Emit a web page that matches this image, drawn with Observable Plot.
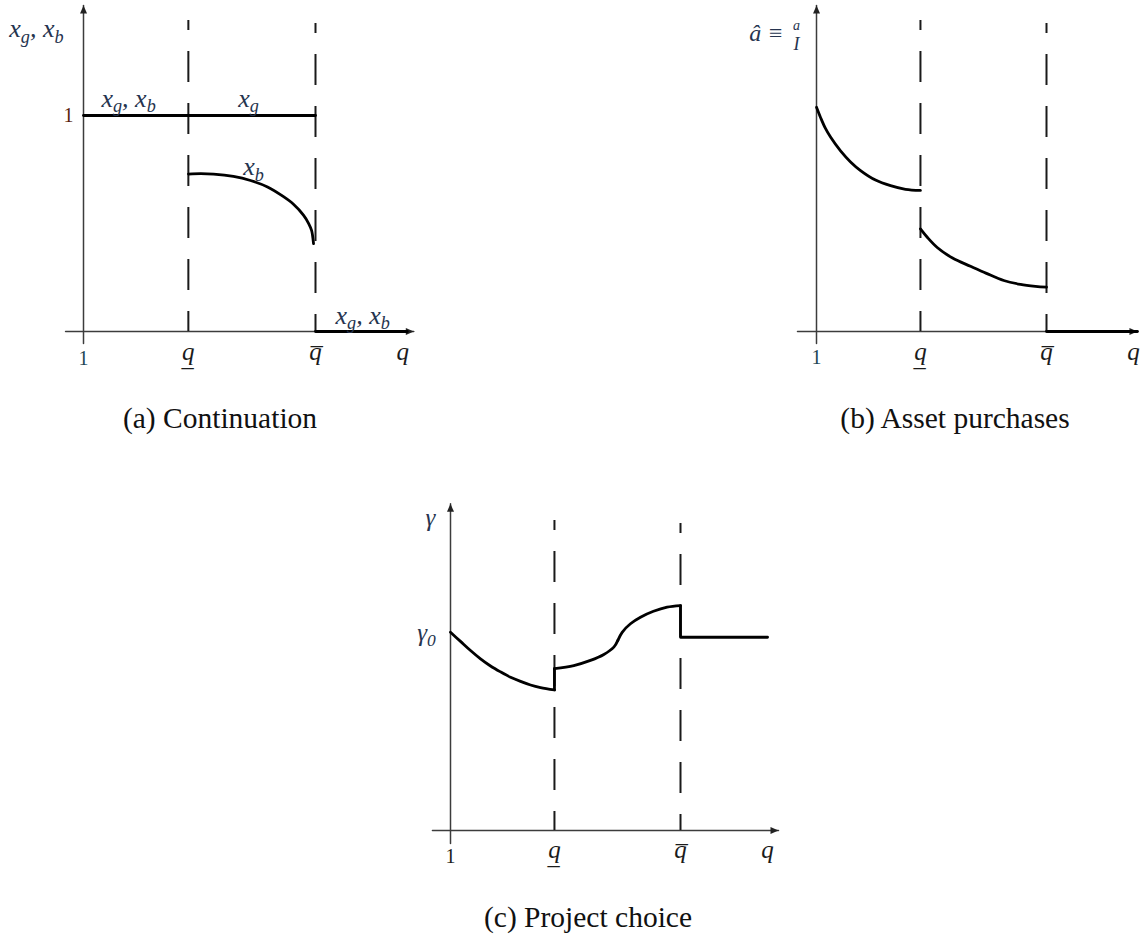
<!DOCTYPE html>
<html><head><meta charset="utf-8">
<script src="https://cdn.jsdelivr.net/npm/d3@7"></script>
<script src="https://cdn.jsdelivr.net/npm/@observablehq/plot@0.6"></script>
<style>
body{margin:0;background:#fff;}
#wrap{position:relative;width:1143px;height:936px;overflow:hidden;background:#fff;}
.panel{position:absolute;}
.panel svg{overflow:visible;}
.cap{position:absolute;font-family:"Liberation Serif","DejaVu Serif",serif;font-size:29.5px;color:#111;transform:translate(-50%,-50%);white-space:nowrap;}
</style></head><body><div id="wrap"></div>
<script>
// ---------- shared data ----------
const qTicks = [1, 1.8, 2.77];                    // 1, q_lower, q_upper
const qTickLabels = ["1", "q\u0332", "q\u0305"];
const qAxisName = "q";

// ---------- (a) Continuation ----------
const aXgXbLevel = [{q: 1, v: 1}, {q: 2.77, v: 1}];
const aXbQ = [1.801, 1.893, 1.992, 2.144, 2.274, 2.404, 2.526, 2.602, 2.678, 2.717, 2.740, 2.747, 2.755];
const aXbV = [0.729, 0.731, 0.729, 0.718, 0.699, 0.669, 0.624, 0.589, 0.539, 0.501, 0.468, 0.447, 0.407];
const aZero = [{q: 2.77, v: 0}, {q: 3.47, v: 0}];
const aLabels = [
  {q: 0.641, v: 1.40, t: "x_g, x_b"},
  {q: 1.344, v: 1.079, t: "x_g, x_b"},
  {q: 2.259, v: 1.079, t: "x_g"},
  {q: 2.298, v: 0.764, t: "x_b"},
  {q: 3.13, v: 0.075, t: "x_g, x_b"}
];

// ---------- (b) Asset purchases ----------
const bCurve1Q = [1.0, 1.031, 1.069, 1.108, 1.185, 1.262, 1.339, 1.454, 1.570, 1.685, 1.80];
const bCurve1V = [1.038, 0.991, 0.940, 0.900, 0.836, 0.785, 0.745, 0.701, 0.675, 0.658, 0.653];
const bCurve2Q = [1.80, 1.854, 1.929, 2.047, 2.185, 2.308, 2.441, 2.570, 2.685, 2.77];
const bCurve2V = [0.475, 0.435, 0.389, 0.340, 0.302, 0.269, 0.236, 0.218, 0.209, 0.205];
const bZero = [{q: 2.77, v: 0}, {q: 3.47, v: 0}];

// ---------- (c) Project choice ----------
const cCurve1Q = [1.0, 1.077, 1.154, 1.231, 1.308, 1.385, 1.462, 1.539, 1.616, 1.693, 1.80];
const cCurve1V = [1.001, 0.955, 0.909, 0.867, 0.831, 0.801, 0.774, 0.753, 0.735, 0.722, 0.710];
const cCurve2aQ = [1.80, 1.949, 2.077, 2.180, 2.257, 2.288];
const cCurve2aV = [0.817, 0.833, 0.859, 0.889, 0.926, 0.960];
const cCurve2bQ = [2.288, 2.321, 2.385, 2.462, 2.562, 2.667, 2.77];
const cCurve2bV = [0.960, 1.001, 1.044, 1.077, 1.107, 1.128, 1.136];
const cJumpLow = [{q: 1.80, v: 0.710}, {q: 1.80, v: 0.817}];
const cJumpHighFlat = [{q: 2.77, v: 1.136}, {q: 2.77, v: 0.976}, {q: 3.44, v: 0.976}];
const cLabels = [
  {q: 0.846, v: 1.58, t: "\u03b3"},
  {q: 0.815, v: 1.0, t: "\u03b3_0"}
];

const captions = ["(a) Continuation", "(b) Asset purchases", "(c) Project choice"];

// ---------- helpers ----------
const MATH = '"Liberation Serif","DejaVu Serif",serif';
const pts = (qs, vs) => qs.map((q, i) => ({q, v: vs[i]}));
const upTri = {draw(ctx) { ctx.moveTo(0, 0); ctx.lineTo(-3.5, 8); ctx.lineTo(3.5, 8); ctx.closePath(); }};
const rightTri = {draw(ctx) { ctx.moveTo(0, 0); ctx.lineTo(-8, -3.5); ctx.lineTo(-8, 3.5); ctx.closePath(); }};

function mathify(svg) {
  svg.querySelectorAll("g.math text").forEach((el) => {
    const s = el.textContent;
    if (!s.includes("_")) return;
    const base = parseFloat(el.getAttribute("font-size") || getComputedStyle(el).fontSize) || 26;
    const parts = s.split(/(_.)/).filter((p) => p.length);
    el.textContent = "";
    let shifted = false;
    const ns = "http://www.w3.org/2000/svg";
    for (const p of parts) {
      const t = document.createElementNS(ns, "tspan");
      if (p[0] === "_") {
        t.textContent = p.slice(1);
        t.setAttribute("font-size", (base * 0.7).toFixed(1));
        if (!shifted) t.setAttribute("dy", (base * 0.22).toFixed(1));
        shifted = true;
      } else {
        t.textContent = p;
        if (shifted) t.setAttribute("dy", (-base * 0.22).toFixed(1));
        shifted = false;
      }
      el.appendChild(t);
    }
  });
}

function axisMarks(xAxis, yAxis, dashed) {
  return [
    Plot.line(xAxis, {x: "q", y: "v", stroke: "#3c3c3c", strokeWidth: 1.5}),
    Plot.line(yAxis, {x: "q", y: "v", stroke: "#3c3c3c", strokeWidth: 1.5}),
    Plot.dot(xAxis.slice(-1), {x: "q", y: "v", symbol: rightTri, fill: "#222", stroke: null}),
    Plot.dot(yAxis.slice(-1), {x: "q", y: "v", symbol: upTri, fill: "#222", stroke: null}),
    Plot.ruleX(dashed, {x: "q", y1: "top", y2: "bottom", stroke: "#1a1a1a", strokeWidth: 2, strokeDasharray: "31,21", strokeDashoffset: 21})
  ];
}

function tickMarks(oneV, qV, nameQ, oneColor) {
  const ticks = qTicks.map((q, i) => ({q, v: i === 0 ? oneV : qV, t: qTickLabels[i]}));
  return [
    Plot.text(ticks.slice(0, 1), {x: "q", y: "v", text: "t", fontFamily: MATH, fontSize: 20, fill: oneColor, lineAnchor: "middle"}),
    Plot.text(ticks.slice(1).concat([{q: nameQ, v: qV, t: qAxisName}]), {x: "q", y: "v", text: "t", fontFamily: MATH, fontStyle: "italic", fontSize: 25, fill: "#1b1b1b", lineAnchor: "middle"})
  ];
}

function mount(plot, left, top) {
  const d = document.createElement("div");
  d.className = "panel";
  d.style.left = left + "px";
  d.style.top = top + "px";
  d.appendChild(plot);
  document.getElementById("wrap").appendChild(d);
  mathify(plot);
}

const LINE = {stroke: "#000", strokeWidth: 2.8, strokeLinecap: "round", strokeLinejoin: "round"};

// ---------- panel (a) ----------
mount(Plot.plot({
  width: 430, height: 380, margin: 0,
  x: {domain: [1, 2.77], range: [83, 315], axis: null},
  y: {domain: [0, 1], range: [331, 115], axis: null},
  style: {background: "transparent"},
  marks: [
    ...axisMarks([{q: 0.863, v: 0}, {q: 3.52, v: 0}], [{q: 1, v: -0.056}, {q: 1, v: 1.509}],
      [{q: 1.8, top: 1.44, bottom: 0}, {q: 2.77, top: 1.426, bottom: 0}]),
    Plot.line(aXgXbLevel, {x: "q", y: "v", ...LINE}),
    Plot.line(aZero, {x: "q", y: "v", ...LINE}),
    Plot.line(pts(aXbQ, aXbV), {x: "q", y: "v", curve: "catmull-rom", ...LINE}),
    Plot.text(aLabels, {x: "q", y: "v", text: "t", fontFamily: MATH, fontStyle: "italic", fontSize: 26, fill: "#26344f", lineAnchor: "middle", className: "math"}),
    Plot.text([{q: 0.885, v: 1, t: "1"}], {x: "q", y: "v", text: "t", fontFamily: MATH, fontSize: 20, fill: "#5a1c0c", lineAnchor: "middle"}),
    ...tickMarks(-0.125, -0.097, 3.435, "#1d4655")
  ]
}), 0, 0);

// ---------- panel (b) ----------
mount(Plot.plot({
  width: 423, height: 380, margin: 0,
  x: {domain: [1, 2.77], range: [96, 326], axis: null},
  y: {domain: [0, 1], range: [331, 115], axis: null},
  style: {background: "transparent"},
  marks: [
    ...axisMarks([{q: 0.854, v: 0}, {q: 3.47, v: 0}], [{q: 1, v: -0.056}, {q: 1, v: 1.509}],
      [{q: 1.8, top: 1.44, bottom: 0}, {q: 2.77, top: 1.426, bottom: 0}]),
    Plot.line(bZero, {x: "q", y: "v", ...LINE}),
    Plot.line(pts(bCurve1Q, bCurve1V), {x: "q", y: "v", curve: "catmull-rom", ...LINE}),
    Plot.line(pts(bCurve2Q, bCurve2V), {x: "q", y: "v", curve: "catmull-rom", ...LINE}),
    Plot.text([{q: 0.746, v: 1.38, t: "\u00e2 \u2261"}], {x: "q", y: "v", text: "t", fontFamily: MATH, fontStyle: "italic", fontSize: 24, fill: "#26344f", lineAnchor: "middle", textAnchor: "end"}),
    Plot.text([{q: 0.846, v: 1.415, t: "a"}], {x: "q", y: "v", text: "t", fontFamily: MATH, fontStyle: "italic", fontSize: 14, fill: "#26344f", lineAnchor: "middle"}),
    Plot.text([{q: 0.846, v: 1.33, t: "I"}], {x: "q", y: "v", text: "t", fontFamily: MATH, fontStyle: "italic", fontSize: 18, fill: "#26344f", lineAnchor: "middle"}),
    ...tickMarks(-0.12, -0.097, 3.44, "#1d4655")
  ]
}), 720, 0);

// ---------- panel (c) ----------
mount(Plot.plot({
  width: 400, height: 380, margin: 0,
  x: {domain: [1, 2.77], range: [50, 280], axis: null},
  y: {domain: [0, 1], range: [340, 142], axis: null},
  style: {background: "transparent"},
  marks: [
    ...axisMarks([{q: 0.861, v: 0}, {q: 3.524, v: 0}], [{q: 1, v: -0.066}, {q: 1, v: 1.65}],
      [{q: 1.8, top: 1.566, bottom: 0}, {q: 2.77, top: 1.55, bottom: 0}]),
    Plot.line(cJumpLow, {x: "q", y: "v", ...LINE}),
    Plot.line(cJumpHighFlat, {x: "q", y: "v", ...LINE}),
    Plot.line(pts(cCurve1Q, cCurve1V), {x: "q", y: "v", curve: "catmull-rom", ...LINE}),
    Plot.line(pts(cCurve2aQ, cCurve2aV), {x: "q", y: "v", curve: "catmull-rom", ...LINE}),
    Plot.line(pts(cCurve2bQ, cCurve2bV), {x: "q", y: "v", curve: "catmull-rom", ...LINE}),
    Plot.text(cLabels, {x: "q", y: "v", text: "t", fontFamily: MATH, fontStyle: "italic", fontSize: 25, fill: "#26344f", lineAnchor: "middle", className: "math"}),
    ...tickMarks(-0.131, -0.101, 3.44, "#1b1b1b")
  ]
}), 400, 490);

// ---------- captions ----------
[[220, 418], [955, 418], [588, 917]].forEach(([x, y], i) => {
  const c = document.createElement("div");
  c.className = "cap";
  c.style.left = x + "px";
  c.style.top = y + "px";
  c.textContent = captions[i];
  document.getElementById("wrap").appendChild(c);
});
</script></body></html>
